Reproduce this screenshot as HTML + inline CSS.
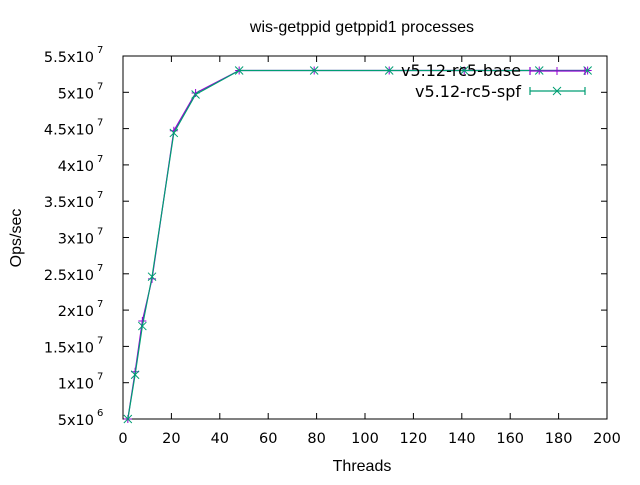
<!DOCTYPE html>
<html><head><meta charset="utf-8"><style>
body{margin:0;background:#fff}
text{font-family:"Liberation Sans",sans-serif;font-size:16px;fill:#000}
.tk{font-family:"DejaVu Sans",sans-serif;font-size:14.5px}
.ex{font-family:"DejaVu Sans",sans-serif;font-size:10px}
.lg{font-family:"DejaVu Sans",sans-serif;font-size:16px}
</style></head><body>
<svg id="chart" width="640" height="480" xmlns="http://www.w3.org/2000/svg">
<text x="362" y="32" text-anchor="middle">wis-getppid getppid1 processes</text>
<text x="362" y="471" text-anchor="middle">Threads</text>
<text transform="translate(21,238) rotate(-90)" text-anchor="middle">Ops/sec</text>
<g id="axes"></g>
<g id="series"></g>
<g>
<text class="lg" x="521" y="76" text-anchor="end">v5.12-rc5-base</text>
<text class="lg" x="521" y="97" text-anchor="end">v5.12-rc5-spf</text>
</g>
</svg>
<script>
const threads=[2,5,8,12,21,30,48,79,110,141,172,192];
const baseOps=[5.0e6,1.15e7,1.85e7,2.43e7,4.47e7,4.99e7,5.3e7,5.3e7,5.3e7,5.3e7,5.3e7,5.3e7];
const spfOps=[5.0e6,1.11e7,1.78e7,2.46e7,4.44e7,4.97e7,5.3e7,5.3e7,5.3e7,5.3e7,5.3e7,5.3e7];
const xTicks=[0,20,40,60,80,100,120,140,160,180,200];
const yTicks=[5e6,1e7,1.5e7,2e7,2.5e7,3e7,3.5e7,4e7,4.5e7,5e7,5.5e7];
const yLabels=["5x10","1x10","1.5x10","2x10","2.5x10","3x10","3.5x10","4x10","4.5x10","5x10","5.5x10"];
const yExp=["6","7","7","7","7","7","7","7","7","7","7"];
const L=123,R=607,T=56,B=419;
const xs=v=>L+(v-0)/200*(R-L);
const ys=v=>B-(v-5e6)/(5e7)*(B-T);
const NS="http://www.w3.org/2000/svg";
function mk(tag,attrs,parent){const e=document.createElementNS(NS,tag);for(const k in attrs)e.setAttribute(k,attrs[k]);parent.appendChild(e);return e;}
const ax=document.getElementById('axes');
const frame=mk('rect',{x:L,y:T,width:R-L,height:B-T,fill:'none',stroke:'#000','stroke-width':1},ax);


xTicks.forEach(v=>{const x=xs(v);
mk('line',{x1:x,y1:B,x2:x,y2:B-6,stroke:'#000'},ax);
mk('line',{x1:x,y1:T,x2:x,y2:T+6,stroke:'#000'},ax);
const t=mk('text',{x:x,y:B+24,'text-anchor':'middle','class':'tk'},ax);t.textContent=v;

});
yTicks.forEach((v,i)=>{const y=ys(v);
mk('line',{x1:L,y1:y,x2:L+6,y2:y,stroke:'#000'},ax);
mk('line',{x1:R,y1:y,x2:R-6,y2:y,stroke:'#000'},ax);
const t=mk('text',{x:94,y:y+6,'text-anchor':'end','class':'tk'},ax);t.textContent=yLabels[i];


const e=mk('text',{x:97,y:y-3,'class':'ex'},ax);e.textContent=yExp[i];

});
const sg=document.getElementById('series');
function cross(g,x,y,c){mk('path',{d:`M${x-4} ${y-4}l8 8M${x-4} ${y+4}l8 -8`,stroke:c,'stroke-width':1,fill:'none'},g);}
function plus(g,x,y,c){mk('path',{d:`M${x-4} ${y}h8M${x} ${y-4}v8`,stroke:c,'stroke-width':1,fill:'none'},g);}
function series(vals,c,name,marker){const g=mk('g',{},sg);


mk('polyline',{points:threads.map((t,i)=>xs(t)+','+ys(vals[i])).join(' '),fill:'none',stroke:c,'stroke-width':1.2},g);
threads.forEach((t,i)=>marker(g,xs(t),ys(vals[i]),c));return g;}
series(baseOps,'#9400d3','series-base',plus);
series(spfOps,'#009e73','series-spf',cross);
const lg=mk('g',{},sg);


mk('path',{d:'M530 71h55M530 67v8M585 67v8',stroke:'#9400d3','stroke-width':1.2},lg);plus(lg,557,71,'#9400d3');
mk('path',{d:'M530 91h55M530 87v8M585 87v8',stroke:'#009e73','stroke-width':1.2},lg);cross(lg,557,91,'#009e73');
</script>
</body></html>
